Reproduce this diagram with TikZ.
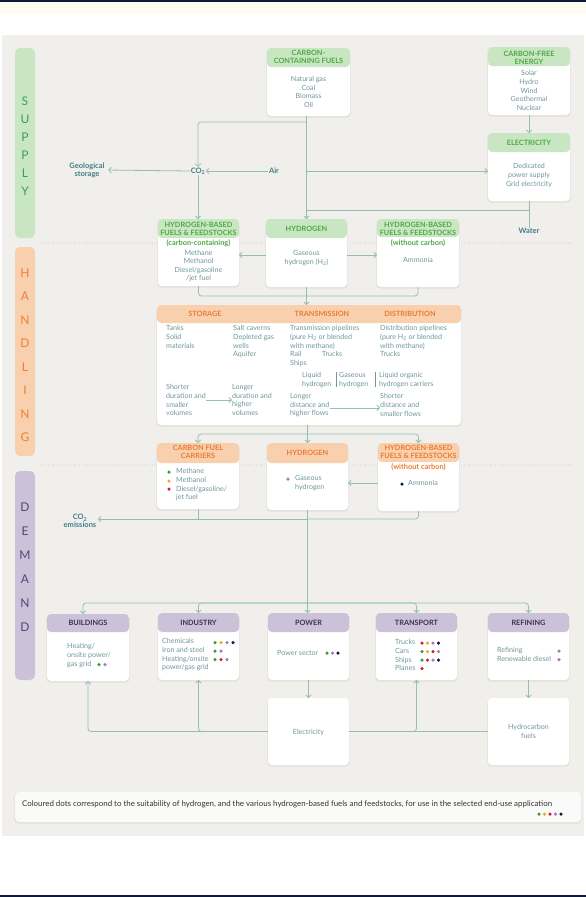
\documentclass[tikz,border=0pt]{standalone}
\usepackage{fontspec}
\setmainfont{Lato}
\usetikzlibrary{arrows.meta,calc}
\definecolor{cPanel}{HTML}{F0EFEB}
\definecolor{cNavy}{HTML}{0B1A3A}
\definecolor{cCream}{HTML}{FEFCF2}
\definecolor{cLine}{HTML}{93BFB1}
\definecolor{cBody}{HTML}{6F979A}
\definecolor{cLab}{HTML}{3F7E86}
\definecolor{cSupH}{HTML}{C9E6C2}
\definecolor{cSupT}{HTML}{4EA845}
\definecolor{cHanH}{HTML}{F9D0AE}
\definecolor{cHanT}{HTML}{EC7A32}
\definecolor{cDemH}{HTML}{CBC2D9}
\definecolor{cDemT}{HTML}{3A3054}
\definecolor{cSupL}{HTML}{3F9A66}
\definecolor{cHanL}{HTML}{EE7F33}
\definecolor{cDemL}{HTML}{54457A}
\definecolor{cShadow}{HTML}{E2E1DC}
\definecolor{cDotLine}{HTML}{BDBDBD}
\definecolor{dGreen}{HTML}{3A9A3A}
\definecolor{dOrange}{HTML}{F2A533}
\definecolor{dRed}{HTML}{D7193F}
\definecolor{dPurple}{HTML}{A07CB8}
\definecolor{dDark}{HTML}{1C1440}
\definecolor{cLegend}{HTML}{FAFAF8}
\definecolor{cLegT}{HTML}{333333}
\newcommand\bodyf{\fontsize{7.1}{8.6}\selectfont}
\newcommand\hdrf{\fontsize{7.3}{8}\selectfont\bfseries}
\newcommand\mybox[7]{%
  \fill[cShadow, rounded corners=4pt] (#2-0.7,#3+0.8) rectangle (#4+0.7,#5+1.6);
  \node[name=#1, inner sep=0, outer sep=0, rounded corners=4pt, fill=white,
    minimum width={#4-#2}, minimum height={#5-#3}, anchor=north west,
    path picture={\fill[#7] (path picture bounding box.north west) rectangle ([yshift={-(#6-#3)*1pt}]path picture bounding box.north east);}]
    at (#2,#3) {};}
\newcommand\dotc[3]{\fill[#1] (#2,#3) circle (1.75);}
\tikzset{
  conn/.style={draw=cLine, line width=0.8pt},
  arr/.style={conn, -{Straight Barb[length=2.6pt,width=5.5pt]}},
  bt/.style={text=cBody, font=\bodyf, inner sep=0, align=center},
  btl/.style={text=cBody, font=\bodyf, inner sep=0, align=left, anchor=north west},
  ht/.style={font=\hdrf, inner sep=0, align=center},
  subh/.style={font=\fontsize{7.4}{8}\selectfont\bfseries, inner sep=0, align=center},
  lab/.style={text=cLab, font=\fontsize{7.5}{8.2}\selectfont\bfseries, inner sep=0.5pt, align=center},
  sidel/.style={inner sep=0, align=center},
  dotsep/.style={draw=cDotLine, line width=0.9pt, line cap=round, dash pattern=on 0pt off 2.6pt}
}
\begin{document}
\begin{tikzpicture}[x=1pt,y=-1pt]
\useasboundingbox (0,0) rectangle (586,897);
\fill[white] (0,0) rectangle (586,897);
\fill[cCream] (0,2) rectangle (586,14);
\fill[cNavy] (0,0) rectangle (586,1.8);
\fill[cNavy] (0,895) rectangle (586,897);
\fill[cPanel] (2,35) rectangle (584,836);
% side bars
\fill[cSupH, rounded corners=5pt] (15,48) rectangle (35,238);
\fill[cHanH, rounded corners=5pt] (15,247) rectangle (35,456);
\fill[cDemH, rounded corners=5pt] (15,471) rectangle (35,680);
\node[name=supL, sidel, text=cSupL, font=\fontsize{12}{18}\selectfont] at (25,146) {S\\U\\P\\P\\L\\Y};
\node[name=hanL, sidel, text=cHanL, font=\fontsize{12}{23.5}\selectfont] at (25,355) {H\\A\\N\\D\\L\\I\\N\\G};
\node[name=demL, sidel, text=cDemL, font=\fontsize{12}{24}\selectfont] at (25,567) {D\\E\\M\\A\\N\\D};
% dotted separators
\draw[dotsep] (38,243) -- (572,243);
\draw[dotsep] (38,465) -- (572,465);
% ---------------- SUPPLY ----------------
\mybox{carb}{267}{48}{350}{116}{67}{cSupH}
\node[name=carbH, ht, text=cSupT] at (308.5,57) {CARBON-\\CONTAINING FUELS};
\node[name=carbB, bt] at (308.5,92) {Natural gas\\Coal\\Biomass\\Oil};
\mybox{cfree}{488}{47}{570}{115}{66}{cSupH}
\node[name=cfreeH, ht, text=cSupT] at (529,57.5) {CARBON-FREE\\ENERGY};
\node[name=cfreeB, bt] at (529,90.5) {Solar\\Hydro\\Wind\\Geothermal\\Nuclear};
\mybox{elec}{488}{133}{570}{201}{152}{cSupH}
\node[name=elecH, ht, text=cSupT] at (529,143) {ELECTRICITY};
\node[name=elecB, bt] at (529,175.5) {Dedicated\\power supply\\Grid electricity};
\mybox{hbfc}{158}{219}{239}{286}{238}{cSupH}
\node[name=hbfcH, ht, text=cSupT] at (198.5,228.5) {HYDROGEN-BASED\\FUELS \& FEEDSTOCKS};
\node[name=hbfcS, subh, text=cSupT] at (198.5,243.5) {(carbon-containing)};
\node[name=hbfcB, bt] at (198.5,266) {Methane\\Methanol\\Diesel/gasoline\\/jet fuel};
\mybox{hyds}{266}{219}{347}{287}{238}{cSupH}
\node[name=hydsH, ht, text=cSupT] at (306.5,228.5) {HYDROGEN};
\node[name=hydsB, bt] at (306.5,258) {Gaseous\\hydrogen (H\textsubscript{2})};
\mybox{hbfn}{377}{219}{459}{287}{237}{cSupH}
\node[name=hbfnH, ht, text=cSupT] at (418,228.5) {HYDROGEN-BASED\\FUELS \& FEEDSTOCKS};
\node[name=hbfnS, subh, text=cSupT] at (418,243.5) {(without carbon)};
\node[name=hbfnB, bt] at (418,260) {Ammonia};
% labels
\node[name=co2, lab] at (198,171) {CO\textsubscript{2}};
\node[name=air, lab] at (274,171) {Air};
\node[name=geo, lab] at (87,170) {Geological\\storage};
\node[name=water, lab] at (529,231) {Water};
% supply connectors
\draw[arr] (carb.south -| hyds.north) -- (hyds.north);
\draw[arr, rounded corners=3pt] (hyds.north |- 0,122) -| (co2.north);
\draw[arr] (hyds.north |- 0,171) -- (elec.west |- 0,171);
\draw[arr] (air.west) -- (co2.east);
\draw[arr, shorten >=3pt] (co2.west) -- (geo.east);
\draw[arr] (co2.south) -- (co2.south |- hbfc.north);
\draw[arr] (cfree.south) -- (elec.north);
\draw[conn] (elec.south) -- (water.north);
\draw[conn, rounded corners=3pt] (elec.south |- 0,210) -- (hyds.north |- 0,210);
\draw[arr] (hyds.west |- 0,255) -- (hbfc.east |- 0,255);
\draw[arr] (hyds.east |- 0,255) -- (hbfn.west |- 0,255);
\draw[conn, rounded corners=3pt] (hbfc.south) |- (hyds.south |- 0,296);
\draw[conn, rounded corners=3pt] (hbfn.south) |- (hyds.south |- 0,296);
% ---------------- HANDLING ----------------
\mybox{store}{157}{305}{461}{425}{323}{cHanH}
\node[name=storeH1, ht, text=cHanT] at (205,314) {STORAGE};
\node[name=storeH2, ht, text=cHanT] at (322,314) {TRANSMISSION};
\node[name=storeH3, ht, text=cHanT] at (410,314) {DISTRIBUTION};
\draw[arr] (hyds.south) -- (hyds.south |- store.north);
\node[name=sc1, btl] at (166,325.5) {Tanks\\Solid\\materials};
\node[name=sc2, btl] at (233,325.5) {Salt caverns\\Depleted gas\\wells\\Aquifer};
\node[name=sc3, btl] at (290,325.5) {Transmission pipelines\\(pure H\textsubscript{2} or blended\\with methane)\\\makebox[32pt][l]{Rail}Trucks\\Ships};
\node[name=sc4, btl] at (380,325.5) {Distribution pipelines\\(pure H\textsubscript{2} or blended\\with methane)\\Trucks};
\node[name=sm1, btl] at (302,372.5) {Liquid\\hydrogen};
\node[name=sm2, btl] at (339,372.5) {Gaseous\\hydrogen};
\node[name=sm3, btl] at (379,372.5) {Liquid organic\\hydrogen carriers};
\draw[draw=cBody, line width=0.5pt] (336.5,372) -- (336.5,387);
\draw[draw=cBody, line width=0.5pt] (375.5,372) -- (375.5,387);
\node[name=sb1, btl] at (166,384.5) {Shorter\\duration and\\smaller\\volumes};
\node[name=sb2, btl] at (232,384.5) {Longer\\duration and\\higher\\volumes};
\node[name=sb3, btl] at (290,393.5) {Longer\\distance and\\higher flows};
\node[name=sb4, btl] at (380,393.5) {Shorter\\distance and\\smaller flows};
\draw[arr] (sb1.east |- 0,400) -- (sb2.west |- 0,400);
\draw[arr] (sb3.east |- 0,408) -- (sb4.west |- 0,408);
\mybox{cfc}{157}{443}{239}{509}{463}{cHanH}
\node[name=cfcH, ht, text=cHanT] at (198,452) {CARBON FUEL\\CARRIERS};
\mybox{hydh}{267}{443}{348}{510}{463}{cHanH}
\node[name=hydhH, ht, text=cHanT] at (307.5,453) {HYDROGEN};
\mybox{hbfh}{378}{443}{459}{511}{462}{cHanH}
\node[name=hbfhH, ht, text=cHanT] at (418.5,452) {HYDROGEN-BASED\\FUELS \& FEEDSTOCKS};
\node[name=hbfhS, subh, text=cHanT] at (418.5,467.5) {(without carbon)};
\node[name=cfcB, btl] at (176,468.5) {Methane\\Methanol\\Diesel/gasoline/\\jet fuel};
\dotc{dGreen}{169}{472}
\dotc{dOrange}{169}{481}
\dotc{dRed}{169}{489}
\node[name=hydhB, btl] at (295,475.5) {Gaseous\\hydrogen};
\dotc{dPurple}{288}{479}
\node[name=hbfhB, btl] at (408,480.5) {Ammonia};
\dotc{dDark}{402}{484}
\draw[arr] (store.south -| hydh.north) -- (hydh.north);
\draw[arr, rounded corners=3pt] (hydh.north |- 0,434) -| (cfc.north);
\draw[arr, rounded corners=3pt] (hydh.north |- 0,434) -| (hbfh.north);
\draw[arr] (hbfh.west |- 0,483) -- (hydh.east |- 0,483);
\node[name=co2e, lab] at (80,521) {CO\textsubscript{2}\\emissions};
\draw[arr, shorten >=1pt] (hydh.south |- 0,519) -- (co2e.east |- 0,519);
\draw[conn] (cfc.south) -- (cfc.south |- 0,519);
\draw[conn, rounded corners=3pt] (hbfh.south) |- (hydh.south |- 0,519);
\draw[conn] (hydh.south) -- (hydh.south |- 0,603);
% ---------------- DEMAND ----------------
\mybox{bld}{47}{614}{129}{681}{632}{cDemH}
\node[name=bldH, ht, text=cDemT] at (88,623) {BUILDINGS};
\node[name=bldB, btl] at (67,643.5) {Heating/\\onsite power/\\gas grid};
\dotc{dGreen}{99}{664.5}
\dotc{dPurple}{105}{664.5}
\mybox{ind}{158}{613}{239}{680}{632}{cDemH}
\node[name=indH, ht, text=cDemT] at (198.5,623) {INDUSTRY};
\node[name=indB, btl] at (162,638.5) {Chemicals\\Iron and steel\\Heating/onsite\\power/gas grid};
\dotc{dGreen}{215}{642.5}\dotc{dOrange}{221}{642.5}\dotc{dPurple}{227}{642.5}\dotc{dDark}{233}{642.5}
\dotc{dGreen}{215}{651}\dotc{dPurple}{221}{651}
\dotc{dGreen}{215}{659.5}\dotc{dRed}{221}{659.5}\dotc{dPurple}{227}{659.5}
\mybox{pow}{268}{613}{349}{680}{632}{cDemH}
\node[name=powH, ht, text=cDemT] at (308.5,623) {POWER};
\node[name=powB, bt, anchor=west] at (277,653) {Power sector};
\dotc{dGreen}{327}{653}\dotc{dPurple}{332.5}{653}\dotc{dDark}{338}{653}
\mybox{trn}{376}{613}{457}{680}{632}{cDemH}
\node[name=trnH, ht, text=cDemT] at (416.5,623) {TRANSPORT};
\node[name=trnB, btl] at (395,639.5) {Trucks\\Cars\\Ships\\Planes};
\dotc{dRed}{422}{643}\dotc{dOrange}{427.5}{643}\dotc{dPurple}{433}{643}\dotc{dDark}{438.5}{643}
\dotc{dGreen}{422}{651.5}\dotc{dOrange}{427.5}{651.5}\dotc{dRed}{433}{651.5}\dotc{dPurple}{438.5}{651.5}
\dotc{dGreen}{422}{660}\dotc{dRed}{427.5}{660}\dotc{dPurple}{433}{660}\dotc{dDark}{438.5}{660}
\dotc{dRed}{422}{668.5}
\mybox{ref}{488}{613}{569}{680}{632}{cDemH}
\node[name=refH, ht, text=cDemT] at (528.5,623) {REFINING};
\node[name=refB, btl] at (497,647.5) {Refining\\Renewable diesel};
\dotc{dPurple}{559}{651}
\dotc{dPurple}{559}{659.5}
\mybox{elecd}{268}{698}{349}{765}{765}{white}
\node[name=elecdT, bt] at (308.5,732) {Electricity};
\mybox{hcf}{488}{698}{569}{765}{765}{white}
\node[name=hcfT, bt] at (528.5,731.5) {Hydrocarbon\\fuels};
\draw[arr, rounded corners=3pt] (hydh.south |- 0,603) -| ([xshift=-5pt]bld.north);
\draw[arr, rounded corners=3pt] (hydh.south |- 0,603) -| (ind.north);
\draw[arr] (hydh.south |- 0,603) -- (hydh.south |- pow.north);
\draw[arr, rounded corners=3pt] (hydh.south |- 0,603) -| (trn.north);
\draw[arr, rounded corners=3pt] (hydh.south |- 0,603) -| (ref.north);
\draw[arr] (pow.south) -- (elecd.north);
\draw[arr] (ref.south) -- (hcf.north);
\draw[arr, rounded corners=3pt] (elecd.west) -| (bld.south);
\draw[arr, rounded corners=3pt] (elecd.west) -| (ind.south);
\draw[conn] (elecd.east) -- (hcf.west);
\draw[arr, rounded corners=3pt] (elecd.east) -| (trn.south);
% legend
\fill[cShadow, rounded corners=4pt] (14.3,792.8) rectangle (581.7,823.6);
\node[name=leg, inner sep=0, rounded corners=4pt, fill=cLegend, minimum width=566pt, minimum height=30pt, anchor=north west] at (15,792) {};
\node[name=legT, inner sep=0, anchor=west, text=cLegT, font=\fontsize{7.9}{9}\selectfont] at (22,804) {Coloured dots correspond to the suitability of hydrogen, and the various hydrogen-based fuels and feedstocks, for use in the selected end-use application};
\dotc{dGreen}{539}{814}\dotc{dOrange}{544.5}{814}\dotc{dRed}{550}{814}\dotc{dPurple}{555.5}{814}\dotc{dDark}{561}{814}
\end{tikzpicture}
\end{document}
